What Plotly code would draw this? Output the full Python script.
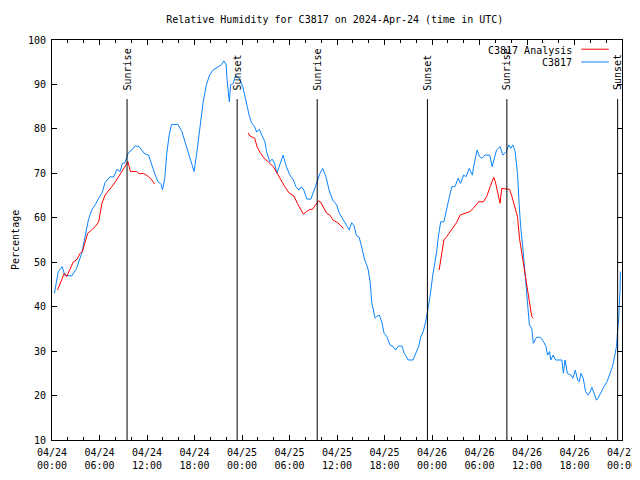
import plotly.graph_objects as go

# ---- data (hours since 2024-04-24 00:00 UTC, relative humidity %) ----
obs_hours = [0.3, 0.8, 1.3, 1.6, 2.5, 3.1, 3.75, 4.2, 4.6, 5.0, 5.45, 5.9, 6.3, 6.7, 7.3, 7.8,
             8.2, 8.6, 8.9, 9.2, 9.6, 10.1, 10.5, 11.0, 11.7, 12.2, 12.5, 13.0, 13.4, 13.8, 13.95,
             14.25, 14.5, 14.8, 15.1, 15.9, 16.4, 16.8, 17.2, 17.6, 17.95, 18.25, 18.7, 19.1, 19.5,
             19.9, 20.35, 21.0, 21.4, 21.7, 22.0, 22.1, 22.4, 22.55, 22.9, 23.2, 23.65, 24.1, 24.5,
             24.9, 25.2, 25.6, 25.85, 26.2, 26.5, 26.9, 27.1, 27.5, 27.8, 28.1, 28.4, 28.7, 29.2,
             29.6, 30.05, 30.5, 30.8, 31.2, 31.5, 31.8, 32.2, 32.7, 33.0, 33.35, 33.85, 34.2, 34.6,
             35.0, 35.45, 35.95, 36.3, 36.8, 37.2, 37.55, 37.85, 38.15, 38.45, 38.8, 39.0, 39.25,
             39.5, 39.75, 39.95, 40.2, 40.4, 40.6, 40.8, 41.0, 41.35, 41.65, 41.95, 42.3, 42.7,
             43.1, 43.4, 43.75, 44.2, 44.5, 44.8, 45.0, 45.6, 45.85, 46.3, 46.6, 46.9, 47.25, 47.5,
             47.75, 48.1, 48.4, 48.6, 48.8, 49.1, 49.5, 49.8, 50.2, 50.5, 50.9, 51.3, 51.6, 52.0,
             52.3, 52.7, 53.1, 53.3, 53.7, 54.0, 54.3, 54.7, 55.3, 55.6, 55.85, 56.15, 56.6, 56.95,
             57.4, 57.7, 57.95, 58.2, 58.5, 58.8, 59.0, 59.2, 59.5, 59.8, 60.0, 60.2, 60.3, 60.6,
             60.8, 61.2, 61.7, 62.1, 62.4, 62.6, 62.85, 63.0, 63.3, 63.6, 64.4, 64.6, 64.8, 65.1,
             65.55, 65.8, 66.1, 66.4, 66.6, 66.8, 67.1, 67.4, 67.7, 67.9, 68.2, 68.5, 68.75, 68.9,
             69.25, 69.6, 70.1, 70.5, 70.8, 71.1, 71.3, 71.45, 71.6, 71.75, 71.8]
obs_rh = [43.0, 47.9, 49.0, 47.1, 46.9, 48.6, 52.0, 55.7, 59.5, 61.7, 62.9, 64.4, 65.5, 67.9, 69.2, 69.2,
          70.9, 70.4, 72.3, 72.3, 74.5, 75.3, 76.2, 76.0, 74.4, 74.1, 72.3, 69.8, 68.1, 67.5, 66.25,
          68.9, 74.5, 78.6, 81.0, 81.0, 79.4, 77.1, 74.9, 72.6, 70.4, 74.1, 80.1, 86.1, 89.9,
          92.1, 93.25, 94.0, 94.4, 95.3, 94.4, 91.4, 86.1, 89.9, 90.25, 92.0, 91.4, 89.5, 86.1,
          83.1, 81.4, 80.5, 79.3, 79.9, 78.6, 77.1, 74.9, 72.6, 73.2, 72.3, 70.0, 71.5, 74.1,
          71.5, 69.6, 68.5, 67.0, 66.25, 67.0, 66.25, 64.2, 64.2, 65.5, 67.4, 70.0, 71.1, 69.25,
          66.25, 64.0, 62.9, 61.0, 59.5, 58.0, 57.25, 58.9, 58.2, 56.0, 55.6, 54.25, 52.0,
          50.5, 49.4, 48.25, 45.25, 40.75, 39.25, 37.4, 37.75, 38.1, 36.6, 34.0, 33.25, 31.4,
          31.0, 30.25, 31.15, 31.15, 29.5, 28.75, 28.0, 28.0, 29.1, 31.0, 33.25, 34.4, 37.0, 39.25,
          42.25, 47.1, 50.0, 52.5, 55.75, 59.1, 59.1, 61.75, 64.75, 67.0, 67.0, 68.9, 67.75, 69.6,
          69.25, 71.1, 69.6, 71.9, 75.25, 73.75, 73.4, 74.1, 74.1, 71.5, 73.4, 75.25, 76.0, 74.1,
          74.9, 76.4, 75.6, 76.4, 74.9, 70.0, 63.25, 58.0, 52.75, 46.2, 42.25, 39.25, 35.9, 35.1,
          31.75, 33.1, 33.1, 32.1, 31.0, 29.1, 29.9, 28.0, 29.1, 28.0, 28.0, 25.0, 28.0, 25.0,
          24.6, 23.9, 25.75, 23.5, 23.1, 25.0, 23.9, 20.9, 20.1, 20.5, 21.85, 20.35, 19.0, 19.15,
          20.5, 21.6, 23.1, 25.0, 26.5, 29.1, 31.0, 34.75, 37.75, 43.75, 47.9]

ana_hours = [0.7, 1.15, 1.55, 1.85, 2.3, 2.7, 3.1, 3.55, 3.85, 4.2, 4.5, 5.0, 5.45, 5.9, 6.3, 6.7,
             7.1, 7.55, 8.0, 8.4, 8.8, 9.3, 9.6, 9.9, 10.7, 11.0, 11.55, 12.2, 12.6, 12.95, None,
             24.8, 25.0, 25.6, 25.9, 26.35, 26.8, 27.3, 27.95, 28.45, 28.9, 29.4, 29.95, 30.55,
             31.0, 31.4, 31.75, 32.15, 32.6, 32.9, 33.35, 33.65, 33.9, 34.25, 34.7, 35.1, 35.5,
             36.05, 36.4, 36.8, None,
             48.9, 49.2, 49.5, 49.85, 50.3, 50.7, 51.1, 51.55, 52.4, 52.8, 53.2, 53.9, 54.5, 54.9,
             55.35, 55.8, 56.0, 56.4, 56.6, 56.8, 57.8, 58.1, 58.5, 58.8, 59.05, 59.35, 59.55,
             59.8, 60.0, 60.2, 60.4, 60.6, 60.8]
ana_rh = [43.75, 45.6, 47.5, 46.75, 48.6, 50.1, 50.5, 52.0, 52.4, 54.6, 56.5, 57.25, 58.0, 59.1, 63.25, 65.1,
          65.9, 67.0, 68.1, 69.25, 70.4, 71.9, 72.6, 70.4, 70.4, 69.9, 70.0, 69.25, 68.5, 67.6, None,
          79.1, 78.4, 77.9, 76.0, 74.5, 73.4, 72.6, 71.5, 70.0, 68.5, 67.0, 65.6, 64.9,
          63.25, 61.75, 60.8, 61.4, 61.9, 61.9, 62.9, 63.8, 63.6, 62.5, 61.0, 60.6, 59.5,
          58.9, 58.4, 57.6, None,
          48.25, 51.6, 55.0, 55.75, 56.9, 57.85, 58.9, 60.6, 61.1, 61.4, 62.1, 63.6, 63.6, 64.75,
          67.0, 69.1, 68.1, 65.1, 63.25, 66.6, 66.4, 64.75, 62.1, 60.25, 55.4, 52.0, 49.4,
          46.75, 44.5, 42.25, 40.0, 37.75, 37.4]

sun_hours = [9.48, 23.39, 33.5, 47.42, 57.46, 71.45]
sun_labels = ["Sunrise", "Sunset", "Sunrise", "Sunset", "Sunrise", "Sunset"]

tick_hours = [0, 6, 12, 18, 24, 30, 36, 42, 48, 54, 60, 66, 72]
tick_labels = ["04/24<br>00:00", "04/24<br>06:00", "04/24<br>12:00", "04/24<br>18:00",
               "04/25<br>00:00", "04/25<br>06:00", "04/25<br>12:00", "04/25<br>18:00",
               "04/26<br>00:00", "04/26<br>06:00", "04/26<br>12:00", "04/26<br>18:00",
               "04/27<br>00:00"]

series_names = ["C3817 Analysis", "C3817"]
series_colors = ["#ff0000", "#0a84ff"]

FONT = "DejaVu Sans Mono"
FIG_W, FIG_H = 632, 464   # page body adds an 8px offset on each side

fig = go.Figure()
fig.add_trace(go.Scatter(x=obs_hours, y=obs_rh, mode="lines", name=series_names[1],
                         line=dict(color=series_colors[1], width=1)))
fig.add_trace(go.Scatter(x=ana_hours, y=ana_rh, mode="lines", name=series_names[0],
                         line=dict(color=series_colors[0], width=1), connectgaps=False))

shapes = []
annotations = []
for h, lab in zip(sun_hours, sun_labels):
    shapes.append(dict(type="line", xref="x", yref="y", x0=h, x1=h, y0=10, y1=86.7,
                       line=dict(color="black", width=1)))
    annotations.append(dict(x=h, y=88.2, xref="x", yref="y", text=lab, textangle=-90,
                            showarrow=False, xanchor="center", yanchor="bottom",
                            font=dict(family=FONT, size=10, color="black")))

# gnuplot-style legend: text then sample line, top-right inside
leg_y = [0.975, 0.943]
for name, col, ly in zip(series_names, series_colors, leg_y):
    annotations.append(dict(x=0.916, y=ly, xref="paper", yref="paper", text=name,
                            showarrow=False, xanchor="right", yanchor="middle",
                            font=dict(family=FONT, size=10, color="black")))
    shapes.append(dict(type="line", xref="paper", yref="paper", x0=0.9284, x1=0.9768,
                       y0=ly + 0.002, y1=ly + 0.002, line=dict(color=col, width=1)))

annotations.append(dict(x=0, y=0.5, xref="paper", yref="paper", text="Percentage",
                        textangle=-90, showarrow=False, xshift=-37, xanchor="center",
                        yanchor="middle", font=dict(family=FONT, size=10, color="black")))

fig.update_layout(
    width=FIG_W, height=FIG_H,
    margin=dict(l=44, r=18, t=32, b=32, autoexpand=False),
    paper_bgcolor="white", plot_bgcolor="white",
    showlegend=False,
    font=dict(family=FONT, size=10, color="black"),
    title=dict(text="Relative Humidity for C3817 on 2024-Apr-24 (time in UTC)",
               x=0.517, xanchor="center", y=1 - 11 / FIG_H, yanchor="middle", yref="container",
               font=dict(family=FONT, size=10, color="black")),
    shapes=shapes, annotations=annotations,
)
fig.update_xaxes(range=[0, 72], tickvals=tick_hours, ticktext=tick_labels, automargin=False,
                 showgrid=False, zeroline=False, showline=True, linecolor="black", linewidth=1,
                 mirror="allticks", ticks="inside", ticklen=5, tickcolor="black",
                 ticklabelstandoff=3, ticklabeloverflow="allow",
                 minor=dict(dtick=2, tick0=0, ticks="inside", ticklen=3, tickcolor="black", showgrid=False),
                 tickfont=dict(family=FONT, size=10, color="black"))
fig.update_yaxes(range=[10, 100], tick0=10, dtick=10, automargin=False,
                 showgrid=False, zeroline=False, showline=True, linecolor="black", linewidth=1,
                 mirror="allticks", ticks="inside", ticklen=5, tickcolor="black",
                 ticklabelstandoff=3, ticklabeloverflow="allow",
                 tickfont=dict(family=FONT, size=10, color="black"))

fig.write_html("out.html")
